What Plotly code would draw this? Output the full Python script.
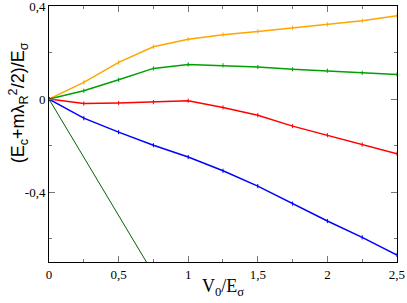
import plotly.graph_objects as go

x_vals = [0, 0.25, 0.5, 0.75, 1.0, 1.25, 1.5, 1.75, 2.0, 2.25, 2.5]
orange_y = [0, 0.072, 0.158, 0.225, 0.257, 0.277, 0.291, 0.307, 0.321, 0.337, 0.358]
green_y = [0, 0.036, 0.083, 0.132, 0.149, 0.145, 0.138, 0.128, 0.122, 0.113, 0.106]
red_y = [0, -0.019, -0.017, -0.013, -0.007, -0.036, -0.069, -0.116, -0.155, -0.195, -0.235]
blue_y = [0, -0.082, -0.142, -0.198, -0.249, -0.308, -0.374, -0.449, -0.524, -0.594, -0.670]
line_x = [0, 1.0]
line_y = [0, -1.0]

x_tickvals = [0, 0.5, 1, 1.5, 2, 2.5]
x_ticktext = ["0", "0,5", "1", "1,5", "2", "2,5"]
y_tickvals = [-0.4, 0, 0.4]
y_ticktext = ["-0,4", "0", "0,4"]

fig = go.Figure()
series = [
    (orange_y, "#FFA500"),
    (green_y, "#00A000"),
    (red_y, "#FF0000"),
    (blue_y, "#0000FF"),
]
for ys, c in series:
    fig.add_trace(go.Scatter(x=x_vals, y=ys, mode="lines+markers",
                             line=dict(color=c, width=1.5),
                             marker=dict(symbol="line-ns", size=3, color=c,
                                         line=dict(color=c, width=1)),
                             showlegend=False))
fig.add_trace(go.Scatter(x=line_x, y=line_y, mode="lines",
                         line=dict(color="#006400", width=1), showlegend=False))

tickfont = dict(family="Liberation Serif", size=13, color="black")
fig.update_layout(
    width=407, height=303,
    margin=dict(l=49, r=10, t=6, b=41, autoexpand=False),
    plot_bgcolor="white", paper_bgcolor="white",
    xaxis=dict(range=[0, 2.5001], tickvals=x_tickvals, ticktext=x_ticktext,
               ticks="inside", ticklen=6, tickcolor="#777", tickwidth=1,
               showline=True, linecolor="black", linewidth=1, mirror="allticks",
               showgrid=False, zeroline=False, tickfont=tickfont, automargin=False,
               ticklabeloverflow="allow",
               minor=dict(dtick=0.25, tick0=0, ticks="inside", ticklen=3, tickcolor="#777", showgrid=False)),
    yaxis=dict(range=[-0.7, 0.4001], tickvals=y_tickvals, ticktext=y_ticktext,
               ticks="inside", ticklen=6, tickcolor="#777", tickwidth=1,
               showline=True, linecolor="black", linewidth=1, mirror="allticks",
               showgrid=False, zeroline=False, tickfont=tickfont, automargin=False,
               ticklabeloverflow="allow",
               minor=dict(dtick=0.2, tick0=0, ticks="inside", ticklen=3, tickcolor="#777", showgrid=False)),
    annotations=[
        dict(text="V<sub>0</sub>/E<sub>σ</sub>", xref="paper", yref="paper",
             x=0.5, y=-0.098, xanchor="center", yanchor="middle", showarrow=False,
             font=dict(family="Liberation Serif", size=18, color="black")),
        dict(text="(E<sub>c</sub>+mλ<sub>R</sub><sup>2</sup>/2)/E<sub>σ</sub>",
             xref="paper", yref="paper", x=-0.089, y=0.62, xanchor="center", yanchor="middle",
             textangle=-90, showarrow=False,
             font=dict(family="Liberation Sans", size=18, color="black")),
    ],
)
fig.write_html("out.html", config={"displayModeBar": False},
               post_script="document.body.style.margin='0';")
